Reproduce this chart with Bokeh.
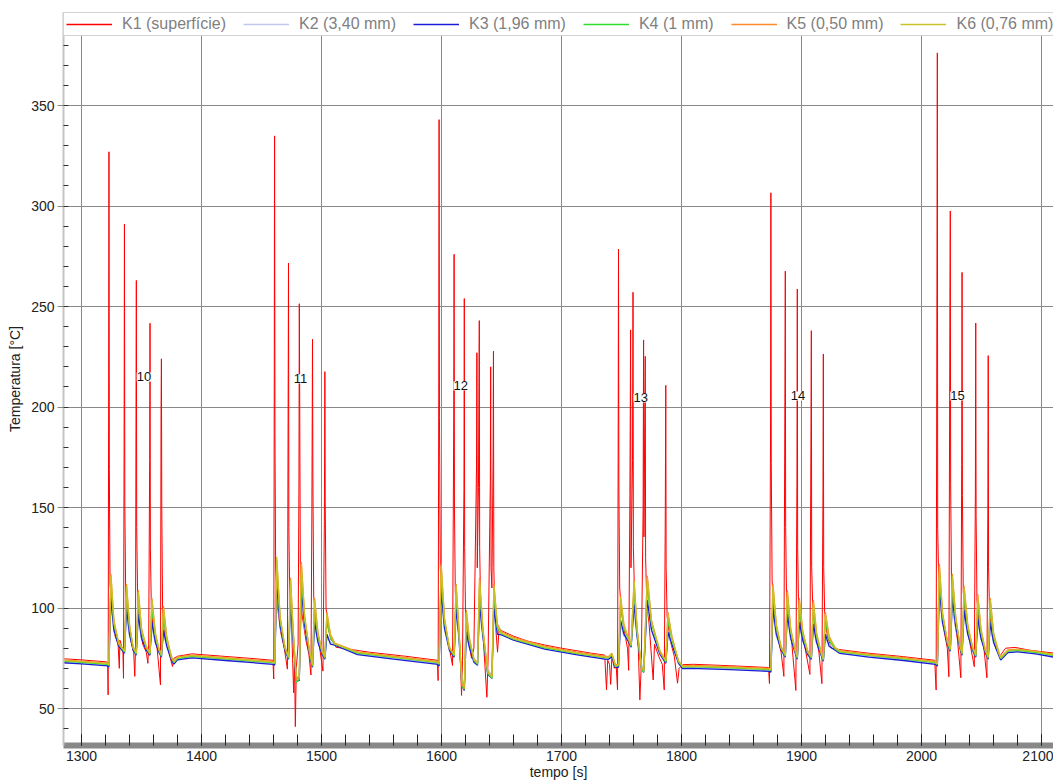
from bokeh.plotting import figure
from bokeh.models import (Range1d, Legend, LegendItem, LabelSet, ColumnDataSource,
                          SingleIntervalTicker)
from bokeh.core.properties import value
from bokeh.embed import file_html
from bokeh.resources import INLINE

# ---------------- data ----------------
# K1 (surface) time/temperature samples
k1_pts = [
    (1284, 74.8), (1300, 74.2), (1321.0, 73.2),
    # cycle 10
    (1321.8, 72.5), (1322.2, 56.8), (1322.6, 197), (1322.9, 327), (1323.2, 169), (1323.8, 112),
    (1325.5, 98), (1328, 86), (1330.5, 82), (1331.5, 70), (1332, 84), (1334.5, 79),
    (1335.0, 65), (1335.5, 182), (1335.8, 291), (1336.1, 152), (1336.8, 108), (1338.5, 96),
    (1341, 84), (1343.5, 78), (1344.4, 66), (1345.0, 80), (1345.4, 190), (1345.7, 263),
    (1346.0, 140), (1346.8, 104), (1348.5, 92), (1351, 82), (1354, 78), (1355.3, 72.5),
    (1356, 82), (1356.8, 173.5), (1357.1, 241.7), (1357.4, 130), (1358.2, 100), (1360, 88),
    (1363, 80), (1365.8, 61.8), (1366.3, 197.5), (1366.6, 224), (1366.9, 150), (1367.6, 98),
    (1369, 88), (1372, 80), (1375.8, 70.9), (1377, 75), (1380, 76), (1392, 77.2),
    (1420, 75.9), (1440, 75), (1459.5, 74),
    # cycle 11
    (1460.2, 64.7), (1460.6, 201), (1460.9, 334.9), (1461.2, 187), (1461.8, 118), (1463.5, 100),
    (1466, 88), (1469, 80), (1471.6, 69.6), (1472.2, 200), (1472.5, 271.6), (1472.8, 140),
    (1473.5, 108), (1475, 92), (1476.8, 57.8), (1477.5, 75), (1478.2, 41), (1479, 70),
    (1480.5, 82), (1481.2, 160.8), (1481.5, 251.4), (1481.8, 210), (1482.4, 112), (1484, 96),
    (1487, 84), (1489.5, 77), (1491.2, 66.7), (1492.0, 150), (1492.5, 233.7), (1492.8, 166.7),
    (1493.5, 106), (1495.5, 92), (1498, 82), (1501.2, 68.6), (1502.4, 143), (1502.8, 217.6),
    (1503.1, 153), (1503.8, 100), (1505.5, 90), (1508, 84), (1510.5, 83.3), (1512, 80.5),
    (1540, 78), (1570, 76), (1596.5, 74),
    # cycle 12
    (1597.2, 63.9), (1597.7, 204.6), (1598.0, 343), (1598.3, 194.7), (1599, 120), (1600.5, 104),
    (1603, 90), (1606, 82), (1609.2, 71.4), (1610.2, 195.5), (1610.5, 276), (1610.8, 150),
    (1611.5, 108), (1613, 94), (1615.5, 80), (1616.7, 56.5), (1617.5, 74), (1618.7, 159),
    (1619.0, 254), (1619.3, 130), (1620, 98), (1622, 86), (1625, 75), (1627, 80),
    (1629.2, 170.7), (1629.5, 227), (1629.8, 120), (1630.8, 160), (1631.5, 243), (1631.8, 130),
    (1632.5, 104), (1634.5, 88), (1637.8, 55.6), (1638.8, 74), (1640.7, 163), (1641.0, 220),
    (1641.3, 120), (1642, 110), (1643.0, 175), (1643.3, 227.8), (1643.6, 120), (1644.5, 96),
    (1646.7, 78), (1648, 90), (1650, 88.7), (1660, 86), (1672, 83.5), (1686, 81.6),
    (1700, 80), (1712, 78.8), (1725, 77.5), (1736, 76.6),
    # cycle 13
    (1737.5, 59.3), (1738.5, 74), (1740, 72), (1741, 62), (1742, 76), (1744, 70),
    (1745.5, 72), (1746.7, 59.3), (1747.2, 171.9), (1747.5, 278.6), (1747.8, 161), (1748.5, 110),
    (1750, 98), (1752.5, 88), (1755, 80), (1756, 69), (1757.0, 156.1), (1757.6, 238.4),
    (1757.9, 120), (1759.2, 173.5), (1759.6, 257.1), (1759.9, 130), (1760.8, 108), (1762.5, 92),
    (1764, 80), (1765.3, 54.3), (1766.5, 72), (1768.0, 148.7), (1768.4, 233.4), (1768.7, 135.4),
    (1769.4, 193.4), (1769.8, 225.2), (1770.1, 125), (1771, 104), (1773, 92), (1776.4, 64.2),
    (1777.5, 82), (1781, 76), (1784, 72), (1785.6, 59.3), (1786.5, 147.8), (1786.9, 210.8),
    (1787.2, 120), (1788, 96), (1790.5, 84), (1794, 76), (1796.7, 62.6), (1798, 70),
    (1801, 71.8), (1810, 72), (1840, 71.3), (1872.5, 70.4),
    # cycle 14
    (1873.3, 62.4), (1874.2, 185.6), (1874.5, 306.6), (1874.8, 172), (1875.5, 114), (1877, 98),
    (1880, 86), (1883, 78), (1885.3, 66), (1886.2, 210.5), (1886.5, 267.6), (1886.8, 140),
    (1887.5, 106), (1889.5, 92), (1892, 82), (1895.3, 59), (1896.2, 165), (1896.5, 258.7),
    (1896.8, 130), (1897.5, 102), (1899.5, 90), (1903, 80), (1907, 67), (1907.9, 190),
    (1908.2, 238), (1908.5, 120), (1909.3, 102), (1911.5, 88), (1914.5, 78), (1917, 62.4),
    (1917.9, 159), (1918.2, 226.4), (1918.5, 120), (1919.3, 98), (1921.5, 86), (1925, 80),
    (1932, 79.3), (1956, 77.5), (1985, 75.8), (2011, 74),
    # cycle 15
    (2012.2, 59.2), (2012.9, 272), (2013.2, 376.2), (2013.5, 139.7), (2014.2, 118), (2016, 100),
    (2019, 88), (2021.5, 80), (2022.8, 65.8), (2023.7, 254.5), (2024.0, 297.5), (2024.3, 161.6),
    (2025, 112), (2027, 96), (2030, 84), (2032.8, 65.3), (2033.5, 171.4), (2033.8, 267),
    (2034.1, 156), (2034.8, 108), (2037, 94), (2040.5, 82), (2044, 70.8), (2044.9, 158.3),
    (2045.2, 241.8), (2045.5, 146), (2046.2, 104), (2048.5, 90), (2052, 80), (2054.5, 65.3),
    (2055.3, 151.7), (2055.6, 225.6), (2055.9, 120), (2056.7, 98), (2059, 86), (2062, 80),
    (2065.6, 76.3), (2070, 80), (2078, 80.4), (2090, 79), (2110, 77.6),
]
t1 = [a for a, b in k1_pts]
k1 = [b for a, b in k1_pts]

# shared time base of the embedded thermocouples K2..K6
tb = [
    1284, 1300, 1322.0,
    1322.8, 1324.5, 1327, 1331, 1335.8, 1337.5, 1340, 1343, 1345.6, 1347.3, 1350, 1354,
    1357.0, 1358.7, 1361.5, 1364.5, 1366.6, 1368.3, 1371, 1375, 1377, 1380, 1392, 1420, 1459.5,
    1461.0, 1462.7, 1465.5, 1469.5, 1472.5, 1474.2, 1476.5, 1479, 1481.5, 1483.2, 1486, 1490,
    1492.5, 1494.2, 1497, 1500.5, 1502.8, 1504.5, 1507.5, 1511, 1530, 1560, 1597,
    1598, 1599.7, 1602.5, 1606.5, 1610.5, 1612.2, 1614.5, 1617, 1619, 1620.7, 1623, 1627,
    1630, 1631.7, 1634.5, 1638.5, 1642, 1643.7, 1646.5, 1650, 1660, 1686, 1712, 1736,
    1739, 1742, 1745, 1747.5, 1749.2, 1752, 1756, 1758, 1760.5, 1763, 1766.7,
    1768.5, 1771.5, 1775, 1782, 1787, 1788.7, 1792, 1797.5, 1801, 1808, 1840, 1873.5,
    1874.5, 1876.2, 1879, 1883, 1886.5, 1888.2, 1891, 1894.5, 1896.5, 1898.2, 1901, 1905,
    1908.2, 1909.9, 1912.5, 1916, 1918.2, 1919.9, 1923, 1928, 1932, 1956, 1985, 2011.5,
    2013.2, 2014.9, 2017.5, 2021.5, 2024.0, 2025.7, 2028.5, 2032, 2033.8, 2035.5, 2038.5, 2042.5,
    2045.2, 2046.9, 2049.5, 2053, 2055.6, 2057.3, 2060, 2064, 2066, 2072, 2080, 2095, 2110,
]

k5 = [
    74.2, 73.6, 72.6,
    72.0, 117, 94, 82, 79, 112, 92, 80, 78, 109, 90, 80,
    78, 105, 88, 79, 77, 101, 86, 75, 73.5, 75.6, 76.6, 75.3, 73.4,
    73.0, 124, 96, 80, 76, 115, 88, 64, 66, 123, 96, 78,
    72, 105, 88, 78, 76, 98, 87, 82.5, 78.2, 76.0, 73.4,
    72.5, 122, 95, 80, 77, 112, 90, 62, 60, 99, 86, 74,
    73, 115, 90, 68, 66, 112, 92, 88.2, 85.4, 81.0, 78.2, 76.0,
    75.8, 77.5, 71.5, 72, 106, 92, 84, 82, 114, 90, 70,
    69, 116, 94, 78, 74, 98, 86, 73.5, 71.2, 71.4, 70.8, 69.9,
    69.5, 112, 92, 80, 77, 109, 90, 79, 76, 105, 89, 78,
    76, 104, 88, 78, 75, 98, 86, 80, 78.8, 77.0, 75.3, 73.4,
    72.5, 122, 98, 83, 80, 117, 96, 81, 78, 111, 92, 80,
    77, 107, 90, 79, 76, 105, 88, 78, 75.5, 79.2, 79.6, 78.6, 77.0,
]
k6 = [
    73.9, 73.3, 72.3,
    71.7, 116, 93, 83, 78.5, 111, 91, 81, 77.5, 108, 89, 81,
    77.5, 104, 87, 80, 76.5, 100, 85, 76, 73.2, 75.3, 76.3, 75.0, 73.1,
    72.7, 125.5, 95, 81, 75.5, 114, 87, 66, 65.5, 122, 95, 79,
    71.5, 104, 87, 79, 75.5, 97, 86, 82.2, 77.9, 75.7, 73.1,
    72.2, 121, 94, 81, 76.5, 111, 89, 64, 61, 98, 85, 75,
    72.5, 114, 89, 69, 65.5, 111, 91, 87.5, 84.8, 80.5, 77.7, 75.6,
    75.5, 77.2, 71.2, 71.7, 105, 91, 85, 81.5, 113, 89, 71,
    68.5, 115, 93, 79, 73.5, 97, 85, 73.8, 70.9, 71.1, 70.5, 69.6,
    69.2, 111, 91, 81, 76.5, 108, 89, 80, 75.5, 104, 88, 79,
    75.5, 103, 87, 79, 74.5, 97, 85, 80.5, 78.5, 76.7, 75.0, 73.1,
    72.2, 121, 97, 84, 79.5, 116, 95, 82, 77.5, 110, 91, 81,
    76.5, 106, 89, 80, 75.5, 104, 87, 79, 75.2, 78.9, 79.3, 78.3, 76.7,
]
k4 = [
    73.6, 73.0, 72.0,
    71.4, 112, 92, 82, 78, 107, 90, 80, 77, 104, 88, 80,
    77, 100, 86, 79, 76, 96, 84, 75, 72.9, 75.0, 76.0, 74.7, 72.8,
    72.4, 119, 94, 80, 75, 110, 86, 63, 64.5, 117, 94, 78,
    71, 100, 86, 78, 75, 94, 85, 82, 77.6, 75.4, 72.8,
    71.9, 117, 93, 80, 76, 107, 88, 61, 59.5, 95, 84, 74,
    72, 110, 88, 67.5, 65, 107, 90, 87.2, 84.5, 80.2, 77.4, 75.3,
    75.2, 76.8, 70.8, 71.4, 101, 90, 84, 81, 109, 88, 69.5,
    68, 111, 92, 78, 73, 94, 84, 73.2, 70.6, 70.8, 70.2, 69.3,
    68.9, 107, 90, 80, 76, 104, 88, 79, 75, 100, 87, 78,
    75, 99, 86, 78, 74, 94, 84, 79.5, 78.2, 76.4, 74.7, 72.8,
    71.9, 116, 96, 83, 79, 111, 94, 81, 77, 106, 90, 80,
    76, 102, 88, 79, 75, 100, 86, 78, 74.9, 78.6, 79.0, 78.0, 76.4,
]
k2 = [
    73.2, 72.6, 71.6,
    71.0, 102, 88, 83, 78, 97, 86, 81, 77, 94, 85, 81,
    77, 90, 83, 80, 76, 87, 82, 76, 72.5, 74.6, 75.6, 74.3, 72.4,
    72.0, 109, 90, 81, 75, 100, 83, 66, 65, 107, 90, 79,
    71, 91, 84, 79, 75, 85, 83, 82, 77.2, 75.0, 72.4,
    71.5, 106, 89, 81, 76, 97, 85, 65, 61, 86, 81, 75,
    72, 99, 85, 70, 66, 97, 87, 86.8, 84.1, 79.8, 77.0, 74.9,
    74.8, 76.2, 71.0, 71.0, 92, 86, 84, 81, 99, 85, 72,
    69, 101, 89, 78, 73, 86, 82, 73.5, 70.2, 70.4, 69.8, 68.9,
    68.5, 97, 86, 81, 76, 95, 85, 80, 75, 91, 84, 79,
    75, 90, 83, 79, 74, 85, 82, 80, 77.8, 76.0, 74.3, 72.4,
    71.5, 106, 92, 84, 79, 102, 90, 82, 77, 97, 87, 81,
    76, 93, 85, 80, 75, 91, 84, 79, 74.5, 78.2, 78.6, 77.6, 76.0,
]
k3 = [
    72.8, 72.2, 71.2,
    70.6, 105, 89, 81, 77.5, 100, 87, 79, 76.5, 97, 85, 79,
    76.5, 93, 83, 78, 75.5, 89, 81, 74, 72.1, 74.2, 75.2, 73.9, 72.0,
    71.6, 112, 91, 79, 74.5, 103, 83, 63.5, 64, 110, 91, 77,
    70.5, 93, 83, 77, 74.5, 87, 82, 81.5, 76.8, 74.6, 72.0,
    71.1, 109, 90, 79, 75.5, 100, 86, 61.5, 59, 88, 81, 73,
    71.5, 102, 86, 67, 65, 100, 87, 86.6, 84.0, 79.6, 76.8, 74.6,
    74.4, 75.8, 70.4, 70.6, 94, 87, 83, 80.5, 102, 86, 70,
    68, 104, 89, 77, 72.5, 88, 82, 72.5, 69.8, 70.0, 69.4, 68.5,
    68.1, 100, 87, 79, 75.5, 97, 85, 78, 74.5, 93, 84, 77,
    74.5, 92, 83, 77, 73.5, 87, 81, 79, 77.4, 75.6, 73.9, 72.0,
    71.1, 110, 93, 82, 78.5, 105, 91, 80, 76.5, 99, 87, 79,
    75.5, 95, 85, 78, 74.5, 93, 83, 77, 74.1, 77.8, 78.2, 77.2, 75.6,
]

series_names = ["K1 (superfície)", "K2 (3,40 mm)", "K3 (1,96 mm)", "K4 (1 mm)",
                "K5 (0,50 mm)", "K6 (0,76 mm)"]
series_colors = ["#ff0000", "#c4c8f0", "#1c1cd8", "#2ee02e", "#ff8a2a", "#c9c226"]

cycle_labels = ["10", "11", "12", "13", "14", "15"]
cycle_t = [1352, 1482.5, 1616, 1766, 1897, 2030]
cycle_temp = [215, 214, 210.5, 204.5, 205.5, 205.5]

for name, arr in (("k2", k2), ("k3", k3), ("k4", k4), ("k5", k5), ("k6", k6)):
    if len(arr) != len(tb):
        raise SystemExit(f"{name} length {len(arr)} != {len(tb)}")

# ---------------- figure ----------------
FONT = "Liberation Sans"
p = figure(width=1053, height=783,
           x_range=Range1d(1285, 2110), y_range=Range1d(31.6, 396.3),
           output_backend="svg", toolbar_location=None,
           min_border_left=63, min_border_right=0, min_border_top=12, min_border_bottom=38,
           background_fill_color="white", border_fill_color="white")
p.outline_line_color = None

p.xaxis.ticker = SingleIntervalTicker(interval=100, num_minor_ticks=5)
p.yaxis.ticker = SingleIntervalTicker(interval=50, num_minor_ticks=5)
p.xgrid.ticker = p.xaxis.ticker
p.ygrid.ticker = p.yaxis.ticker
for g in (p.xgrid, p.ygrid):
    g.grid_line_color = "#888888"
    g.grid_line_width = 1

xa = p.xaxis[0]
xa.axis_line_width = 6
xa.axis_line_color = "#888888"
xa.major_tick_in = 11
xa.major_tick_out = 0
xa.minor_tick_in = 11
xa.minor_tick_out = 0
xa.major_tick_line_color = "#222222"
xa.minor_tick_line_color = "#222222"
xa.major_label_text_font = FONT
xa.major_label_text_font_size = "14px"
xa.major_label_text_color = "#222222"
xa.major_label_standoff = 5
xa.axis_label = "tempo [s]"
xa.axis_label_text_font = FONT
xa.axis_label_text_font_size = "14px"
xa.axis_label_text_font_style = "normal"
xa.axis_label_text_color = "#222222"
xa.axis_label_standoff = 0

ya = p.yaxis[0]
ya.axis_line_width = 2
ya.axis_line_color = "#c4c4c4"
ya.major_tick_in = 0
ya.major_tick_out = 6
ya.minor_tick_in = 5
ya.minor_tick_out = 0
ya.major_tick_line_color = "#888888"
ya.minor_tick_line_color = "#333333"
ya.major_label_text_font = FONT
ya.major_label_text_font_size = "14px"
ya.major_label_text_color = "#222222"
ya.major_label_standoff = 3
ya.axis_label = "Temperatura [°C]"
ya.axis_label_text_font = FONT
ya.axis_label_text_font_size = "14px"
ya.axis_label_text_font_style = "normal"
ya.axis_label_text_color = "#222222"
ya.axis_label_standoff = 5

p.line(t1, k1, line_color=series_colors[0], line_width=1)
for vals, col in zip([k2, k3, k4, k5, k6], series_colors[1:]):
    p.line(tb, vals, line_color=col, line_width=1.3)

# legend swatches (one NaN point each, nothing drawn in the frame)
swatches = []
for col in series_colors:
    swatches.append(p.multi_line(xs=[[float("nan")]], ys=[[float("nan")]],
                                 line_color=col, line_width=1.5))

items = [LegendItem(label=n, renderers=[r], index=0) for n, r in zip(series_names, swatches)]
legend = Legend(items=items, location="top_left", orientation="horizontal",
                margin=0, padding=2, spacing=17, glyph_width=46, glyph_height=16,
                label_height=16, label_standoff=10,
                label_text_font=FONT, label_text_font_size="16px",
                label_text_color="#7f7f7f",
                border_line_color="#a8a8a8", border_line_width=1,
                background_fill_color="white", background_fill_alpha=1.0)
p.add_layout(legend)

lsrc = ColumnDataSource(dict(x=cycle_t, y=cycle_temp, text=cycle_labels))
labels = LabelSet(x="x", y="y", text="text", source=lsrc,
                  text_align="center", text_baseline="middle",
                  text_font=value(FONT), text_font_size=value("13px"),
                  text_color="#111111",
                  background_fill_color="white", background_fill_alpha=1.0)
p.add_layout(labels)

open("out.html", "w").write(file_html(p, INLINE))
